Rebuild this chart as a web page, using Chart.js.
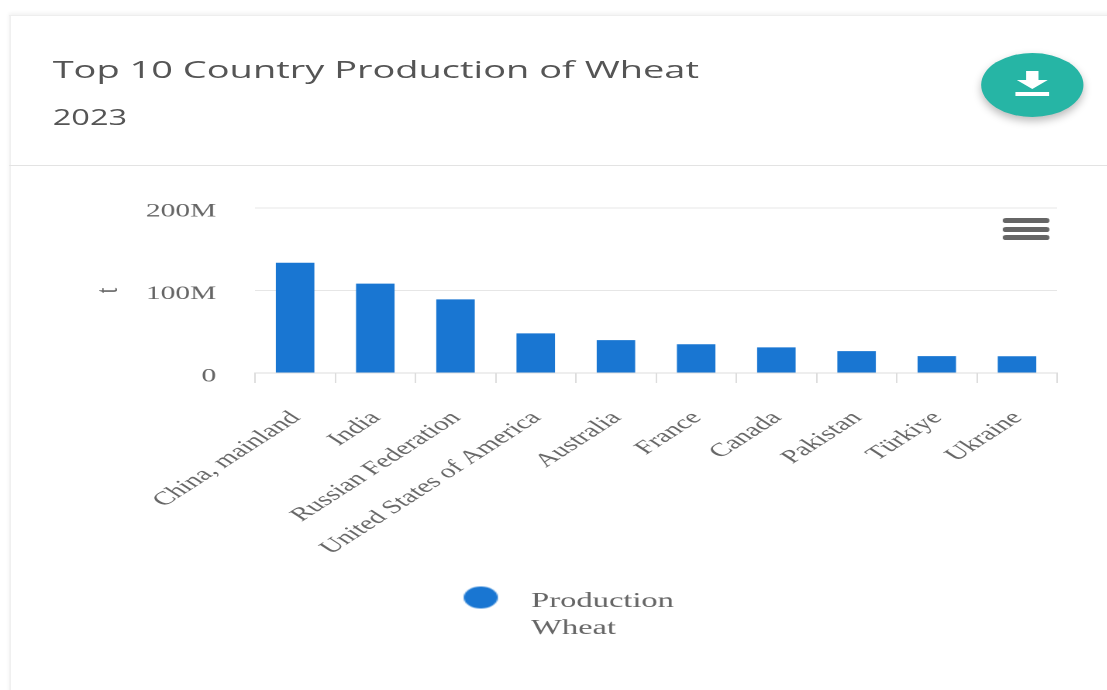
<!DOCTYPE html>
<html>
<head>
<meta charset="utf-8">
<script src="https://cdn.jsdelivr.net/npm/chart.js@4"></script>
<style>
  html, body { margin: 0; padding: 0; background: #fff; overflow: hidden; }
  /* the reference is a screenshot stretched sideways, so the whole card is stretched too */
  #page { position: absolute; left: 0; top: 0; width: 714px; height: 690px; transform: scaleX(1.55); transform-origin: 0 0; }
  #card { position: absolute; left: 6px; top: 15px; width: 720px; height: 680px; border-left: 1px solid #eee; border-top: 1px solid #eee; box-shadow: 0 -2px 3px #f2f2f2; }
  #rule { position: absolute; left: 6px; top: 165px; width: 720px; height: 1px; background: #e3e3e3; }
  .head { position: absolute; left: 34px; font-family: "Open Sans", sans-serif; color: #555; white-space: nowrap; }
  #title { top: 52px; font-size: 24.5px; line-height: 34px; }
  #year { top: 102px; font-size: 21px; line-height: 30px; }
  #fab { position: absolute; left: 633px; top: 53px; width: 66px; height: 64px; border-radius: 50%; background: #26b5a5; box-shadow: 0 4px 7px rgba(0,0,0,.28); }
  #fab svg { position: absolute; left: 22px; top: 18px; }
  #chartBox { position: absolute; left: 0; top: 166px; }
  .bar { position: absolute; left: 646.5px; width: 30px; height: 5px; border-radius: 2px; background: #666; }
</style>
</head>
<body>
<div id="page">
  <div id="card"></div>
  <div id="rule"></div>
  <div class="head" id="title">Top 10 Country Production of Wheat</div>
  <div class="head" id="year">2023</div>
  <div id="fab">
    <svg width="22" height="26" viewBox="0 0 22 26"><path fill="#fff" d="M7 0h8v9h6L11 18 1 9h6zM0 21h22v4H0z"/></svg>
  </div>
  <div id="chartBox"><canvas id="myChart" width="724" height="524"></canvas></div>
  <div class="bar" style="top:218px"></div>
  <div class="bar" style="top:226.5px"></div>
  <div class="bar" style="top:235px"></div>
</div>
<script>
const categories = ['China, mainland', 'India', 'Russian Federation', 'United States of America', 'Australia', 'France', 'Canada', 'Pakistan', 'Türkiye', 'Ukraine'];
const production = [133700000, 108400000, 89200000, 48000000, 39800000, 34900000, 31000000, 26500000, 20500000, 20300000];
const seriesLines = ['Production', 'Wheat'];
const axisUnit = 't';
const blue = '#1976d2';
const serif = '"Liberation Serif", serif';

// round legend dot with room beside it, the legend has no gap option of its own
const dot = document.createElement('canvas');
dot.width = 44;
dot.height = 32;
const dotCtx = dot.getContext('2d');
dotCtx.fillStyle = blue;
dotCtx.arc(22, 12, 11, 0, Math.PI * 2);
dotCtx.fill();

// legend box only counts one text line, so open its clip for the second one,
// and slide it right since it centres on the padded width
const legendRoom = {
    id: 'legendRoom',
    afterLayout: chart => {
        chart.legend.bottom += 40;
        chart.legend.left += 23;
        chart.legend.right += 23;
    }
};

const ctx = document.getElementById('myChart').getContext('2d');

new Chart(ctx, {
    type: 'bar',
    data: {
        labels: categories,
        datasets: [
            {
                label: 'Production Wheat',
                data: production,
                backgroundColor: blue,
                barPercentage: 0.48,
                categoryPercentage: 1
            }
        ]
    },
    plugins: [legendRoom],
    options: {
        responsive: false,
        animation: false,
        devicePixelRatio: 2,
        layout: {
            padding: { left: 55, right: 42, top: 42, bottom: 68 }
        },
        plugins: {
            tooltip: { enabled: false },
            legend: {
                position: 'bottom',
                labels: {
                    usePointStyle: true,
                    pointStyle: dot,
                    pointStyleWidth: 44,
                    padding: 10,
                    color: '#666',
                    font: { family: serif, size: 21, lineHeight: 1.29 },
                    generateLabels: () => [{ text: seriesLines, fillStyle: blue, pointStyle: dot, fontColor: '#666', lineWidth: 0, hidden: false, datasetIndex: 0 }]
                }
            }
        },
        scales: {
            x: {
                afterFit: scale => { scale.height = 208; },
                grid: { drawOnChartArea: false, drawTicks: true, tickLength: 10, tickColor: '#ddd', offset: true },
                border: { color: '#ddd', width: 1 },
                ticks: {
                    autoSkip: false,
                    minRotation: 45,
                    maxRotation: 45,
                    padding: 24,
                    labelOffset: 0.5,
                    color: '#666',
                    font: { family: serif, size: 19 }
                }
            },
            y: {
                min: 0,
                max: 200000000,
                afterFit: scale => { scale.width = 109.5; },
                title: { display: true, text: axisUnit, color: '#666', font: { family: serif, size: 20 }, padding: { top: 3, bottom: 0 } },
                border: { display: false },
                grid: { color: '#e6e6e6', drawTicks: false },
                ticks: {
                    stepSize: 100000000,
                    padding: 25,
                    labelOffset: 3.5,
                    color: '#666',
                    font: { family: serif, size: 19 },
                    callback: value => value === 0 ? '0' : (value / 1000000) + 'M'
                }
            }
        }
    }
});
</script>
</body>
</html>
